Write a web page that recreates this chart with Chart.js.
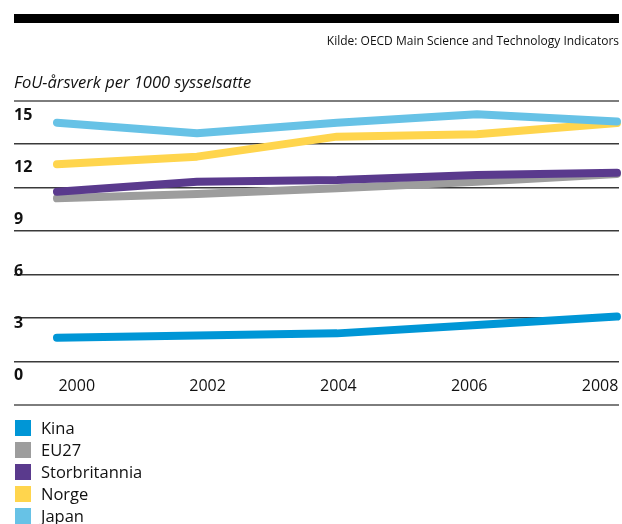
<!DOCTYPE html>
<html>
<head>
<meta charset="utf-8">
<script src="https://cdn.jsdelivr.net/npm/chart.js@4.4.1/dist/chart.umd.min.js"></script>
<style>
  body { margin: 0; background: #fff; font-family: "Open Sans", sans-serif; }
  #wrap { position: relative; width: 622px; height: 524px; overflow: hidden; }
  #bar { position: absolute; left: 14px; top: 14px; width: 605px; height: 9px; background: #000; }
  #chart { position: absolute; left: 0; top: 0; }
  #legend { position: absolute; left: 15px; top: 420px; }
  .item { height: 22px; display: flex; align-items: flex-start; }
  .box { width: 16px; height: 16px; margin-right: 10px; }
  .txt { font-size: 16.5px; line-height: 16px; color: #111; }
</style>
</head>
<body>
<div id="wrap">
  <canvas id="chart" width="622" height="524"></canvas>
  <div id="bar"></div>
  <div id="legend"></div>
</div>
<script>
// Data
var years = [2000, 2002, 2004, 2006, 2008];
var kina = [2.16, 2.28, 2.41, 2.9, 3.38];
var eu27 = [10.23, 10.48, 10.81, 11.19, 11.64];
var storbritannia = [10.61, 11.19, 11.29, 11.58, 11.71];
var norge = [12.2, 12.64, 13.8, 13.94, 14.59];
var japan = [14.61, 13.99, 14.61, 15.1, 14.67];

var seriesNames = ["Kina", "EU27", "Storbritannia", "Norge", "Japan"];
var seriesValues = [kina, eu27, storbritannia, norge, japan];
var seriesColors = ["#0096d6", "#9d9d9d", "#5a3a8d", "#ffd54d", "#67c2e6"];

var yTicks = [0, 3, 6, 9, 12, 15];
var xTicks = [2000, 2002, 2004, 2006, 2008];

var font = "'Open Sans', sans-serif";

// Legend som liste under figuren
var legend = document.getElementById("legend");
seriesNames.forEach(function (name, i) {
  var row = document.createElement("div");
  row.className = "item";
  row.innerHTML =
    '<div class="box" style="background:' + seriesColors[i] + '"></div>' +
    '<div class="txt">' + name + "</div>";
  legend.appendChild(row);
});

var datasets = seriesNames.map(function (name, i) {
  return {
    label: name,
    data: years.map(function (y, j) {
      return { x: y, y: seriesValues[i][j] };
    }),
    borderColor: seriesColors[i],
    backgroundColor: seriesColors[i],
    borderWidth: 8,
    borderCapStyle: "round",
    borderJoinStyle: "round",
    pointRadius: 0,
    tension: 0,
    clip: false,
    order: seriesNames.length - i, // Japan øverst
  };
});

new Chart(document.getElementById("chart"), {
  type: "line",
  data: { datasets: datasets },
  options: {
    responsive: false,
    animation: false,
    layout: { padding: { left: 14, right: 3, top: 0, bottom: 119 } },
    plugins: {
      legend: { display: false },
      tooltip: { enabled: false },
      title: {
        display: true,
        text: "Kilde: OECD Main Science and Technology Indicators",
        align: "end",
        color: "#111",
        font: { family: font, size: 12, weight: "normal" },
        padding: { top: 34, bottom: 0 },
      },
      subtitle: {
        display: true,
        text: "FoU-årsverk per 1000 sysselsatte",
        align: "start",
        color: "#111",
        font: { family: font, size: 16.5, style: "italic" },
        padding: { top: 24.5, bottom: 8 },
      },
    },
    scales: {
      x: {
        type: "linear",
        min: 1999.386,
        max: 2008.029,
        display: false,
      },
      xl: {
        type: "linear",
        axis: "x",
        position: { yg: 0.642 },
        min: 1999.041,
        max: 2008.29,
        grid: { display: false, drawTicks: false },
        border: { display: false },
        ticks: {
          padding: 0,
          maxRotation: 0,
          color: "#111",
          font: { family: font, size: 16 },
          callback: function (v) { return String(v); },
        },
        afterBuildTicks: function (s) {
          s.ticks = xTicks.map(function (v) { return { value: v }; });
        },
      },
      y: {
        type: "linear",
        position: "left",
        min: -1.737,
        max: 15.88,
        grid: { display: false, drawTicks: false },
        border: { display: false },
        ticks: {
          mirror: true,
          padding: 0,
          color: "#111",
          font: { family: font, size: 16, weight: "bold" },
          callback: function (v) { return String(v); },
        },
        afterBuildTicks: function (s) {
          s.ticks = yTicks.map(function (v) { return { value: v }; });
        },
      },
      yg: {
        type: "linear",
        position: "left",
        min: 0,
        max: 7,
        ticks: { display: false, stepSize: 1 },
        border: { display: false },
        grid: {
          drawTicks: false,
          color: function (c) {
            return c.index === 0 || c.index === 7 ? "#7d7d7d" : "#3a3a3a";
          },
          lineWidth: function (c) {
            return c.index === 0 || c.index === 7 ? 2 : 1.4;
          },
        },
      },
    },
  },
});
</script>
</body>
</html>
